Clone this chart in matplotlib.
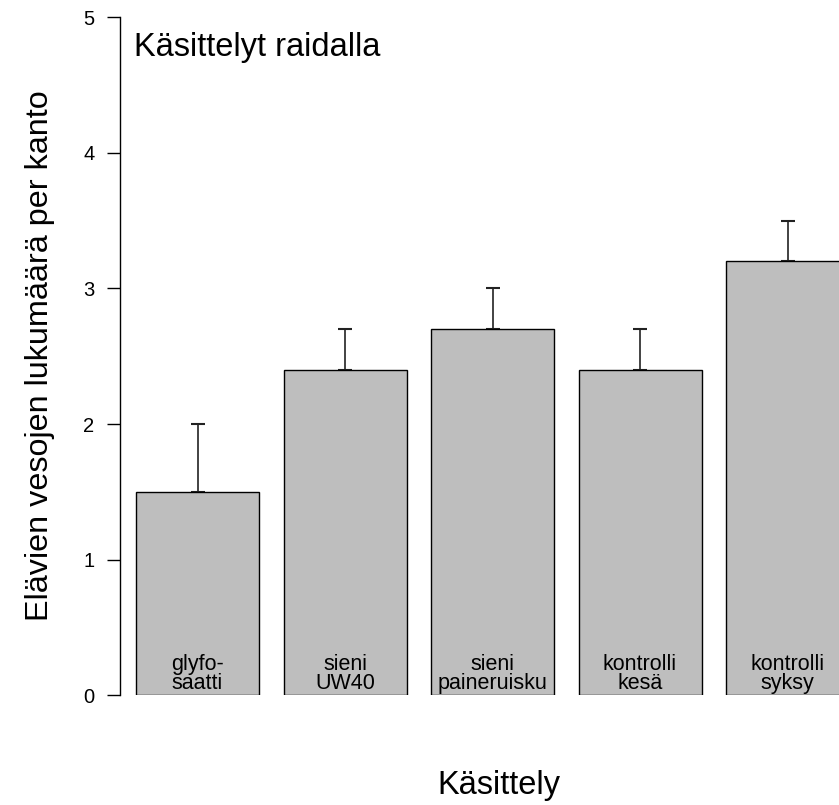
import numpy as np
import matplotlib.pyplot as plt

plt.rcParams['font.family'] = ['Liberation Sans', 'DejaVu Sans']

# data
treatments = ['glyfo-\nsaatti', 'sieni\nUW40', 'sieni\npaineruisku', 'kontrolli\nkesä', 'kontrolli\nsyksy']
means = [1.5, 2.4, 2.7, 2.4, 3.2]
upper = [2.0, 2.7, 3.0, 2.7, 3.5]

W, H = 839, 805
fig = plt.figure(figsize=(W / 100, H / 100), dpi=100)
# axes area in pixels: left axis at x=120, y from 695 (0) to 17.5 (5)
ax = fig.add_axes([120 / W, (H - 695) / H, 1 - 120 / W, (695 - 17.5) / H])

x = np.arange(len(means))
width = 123 / 147.5
ax.bar(x, means, width=width, color='#bebebe', edgecolor='black', linewidth=1.0, zorder=2)

err = np.array(upper) - np.array(means)
ax.errorbar(x, means, yerr=[np.zeros_like(err), err], fmt='none', ecolor='#222222',
            elinewidth=1.2, capsize=5, capthick=1.5, zorder=1)

for xi, lab in zip(x, treatments):
    ax.text(xi, 0.005, lab, ha='center', va='bottom', fontsize=15.5, linespacing=0.92, zorder=3)

ax.set_xlim((120 - 197.5) / 147.5, (839 - 197.5) / 147.5)
ax.set_ylim(0, 5)
ax.set_yticks([0, 1, 2, 3, 4, 5])
ax.tick_params(axis='y', length=9.5, width=1, labelsize=14.5, pad=9)
ax.set_xticks([])
for s in ['top', 'right', 'bottom']:
    ax.spines[s].set_visible(False)
ax.spines['left'].set_linewidth(1.0)

ax.text(0.02, 0.955, 'Käsittelyt raidalla', transform=ax.transAxes, fontsize=23.5,
        ha='left', va='center')

fig.text(40 / W, 1 - 356 / H, 'Elävien vesojen lukumäärä per kanto', rotation=90,
         ha='center', va='center', fontsize=23.3)
fig.text(499 / W, 1 - 785 / H, 'Käsittely', ha='center', va='center', fontsize=23.5)

fig.savefig('out.png', dpi=100)
